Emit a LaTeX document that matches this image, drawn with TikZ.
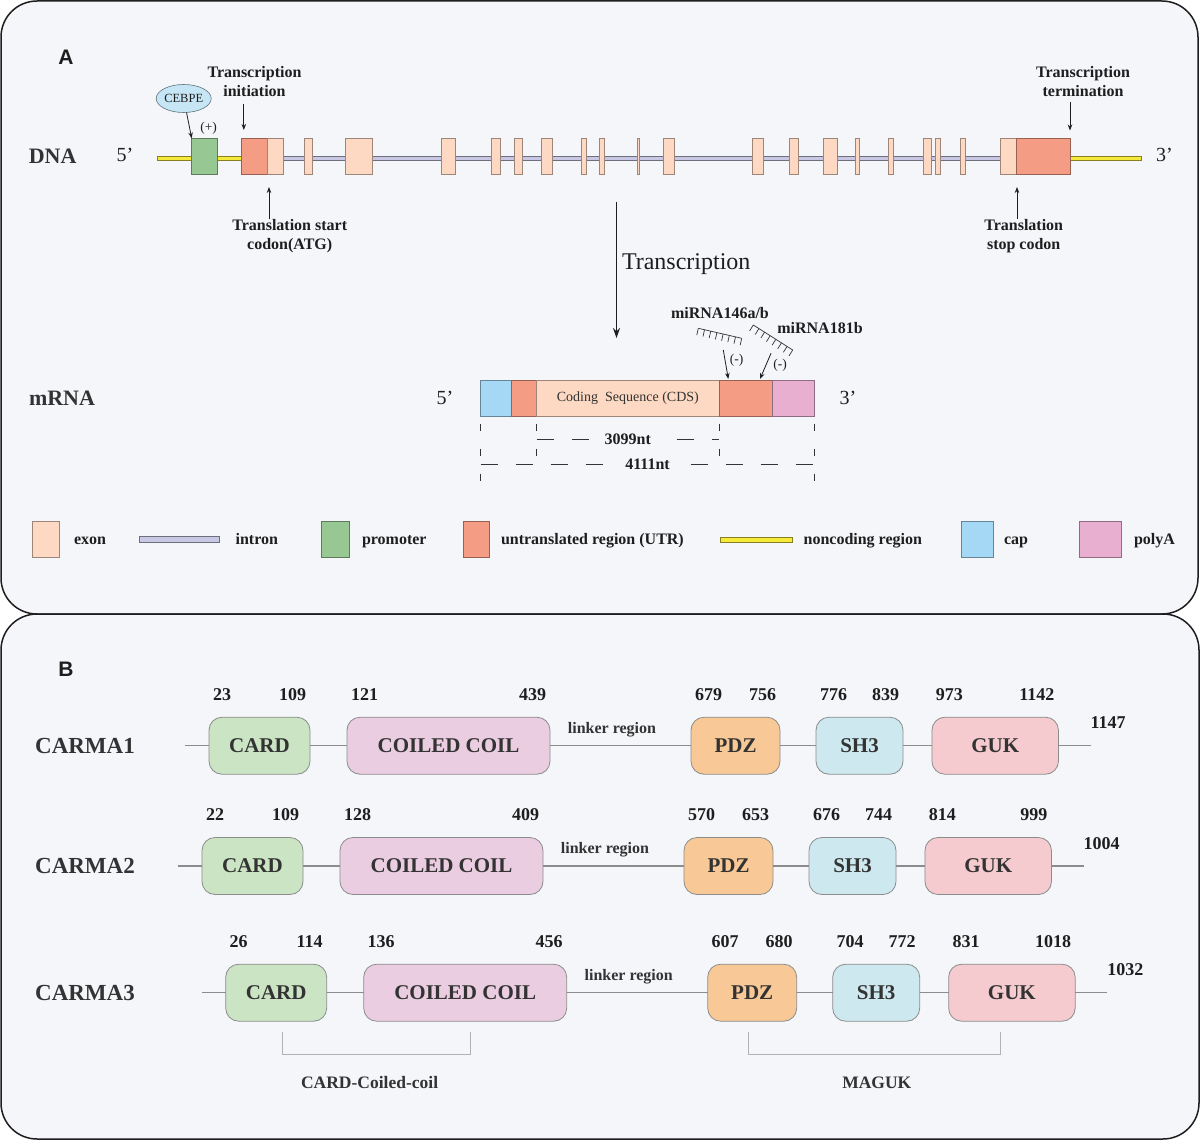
\documentclass[tikz,border=0pt]{standalone}
\usepackage{fontspec}
\setmainfont{Liberation Serif}
\newfontfamily\panelsans{Liberation Sans}
\usetikzlibrary{positioning,shapes.geometric,arrows.meta,calc}

\definecolor{bgcol}{HTML}{F4F6FA}
\definecolor{ink}{HTML}{1E1E1E}
\definecolor{ink2}{HTML}{333333}
\definecolor{exonc}{HTML}{FDD8C2}
\definecolor{utrc}{HTML}{F59C84}
\definecolor{promc}{HTML}{97C893}
\definecolor{intronc}{HTML}{C9C8E4}
\definecolor{noncc}{HTML}{F5E93A}
\definecolor{capc}{HTML}{A4D8F5}
\definecolor{polyc}{HTML}{E9AFD1}
\definecolor{cebpec}{HTML}{C6E6F6}
\definecolor{cardc}{HTML}{CBE4C4}
\definecolor{coilc}{HTML}{EBCDE1}
\definecolor{pdzc}{HTML}{F8C996}
\definecolor{shc}{HTML}{CDE9EF}
\definecolor{gukc}{HTML}{F5CBD0}

\begin{document}
\begin{tikzpicture}[x=1pt, y=-1pt,
every node/.style={inner sep=0pt, outer sep=0pt, text=ink},
panel/.style={draw=ink, line width=1.5pt, fill=bgcol, rounded corners=36pt},
box/.style={draw=#1!62!black, fill=#1, line width=.7pt, minimum height=35.7pt},
bar/.style={draw=#1!55!black, fill=#1, line width=.5pt},
dom/.style={draw=black!45, fill=#1, line width=.8pt, rounded corners=13pt,
    minimum height=57pt, text=ink2, font=\fontsize{21}{21}\selectfont\bfseries},
lab/.style={font=\fontsize{16}{19.5}\selectfont\bfseries, align=center},
bigtxt/.style={font=\fontsize{22}{22}\selectfont\bfseries, text=ink2},
prime/.style={font=\fontsize{20}{20}\selectfont},
smalltxt/.style={font=\fontsize{13.5}{13.5}\selectfont},
leg/.style={font=\fontsize{16}{16}\selectfont\bfseries, anchor=base west},
num/.style={font=\fontsize{18}{18}\selectfont\bfseries},
linker/.style={font=\fontsize{16}{16}\selectfont\bfseries, text=ink2},
arr/.style={draw=ink, line width=.8pt, -{Stealth[length=6pt,width=4.5pt]}},
dimv/.style={draw=ink2, line width=.8pt, dash pattern=on 7pt off 18pt},
dimh/.style={draw=ink2, line width=.8pt, dash pattern=on 17pt off 18pt},
comb/.style={draw=ink2, line width=.7pt},
bb/.style={draw=black!45, line width=1.2pt},
brk/.style={draw=black!30, line width=1pt}
]
\useasboundingbox (0,0) rectangle (1200,1140);
\draw[panel] (1,1) rectangle (1198,614);
\draw[panel] (1,614) rectangle (1199,1139);
\node[font=\panelsans\fontsize{21}{21}\selectfont\bfseries] (pa) at (66,57) {A};
\node[font=\panelsans\fontsize{21}{21}\selectfont\bfseries] (pb) at (66,669) {B};

% DNA
\node[bigtxt] (dna) at (52.6,156.7) {DNA};
\node[prime] (d5) at (125,155) {5’};
\node[prime] (d3) at (1164.5,155) {3’};
\node[bar=noncc, minimum width=84.2pt, minimum height=3.6pt, anchor=west] (nc5) at (157.5,158.5) {};
\node[bar=noncc, minimum width=70.3pt, minimum height=3.6pt, anchor=west] (nc3) at (1070.7,158.5) {};
\node[bar=intronc, minimum width=717pt, minimum height=4.6pt, anchor=west] (intr) at (283.7,158.3) {};
\node[box=promc, minimum width=26pt, anchor=west] (prom) at (191.7,156.2) {};
\node[box=utrc, minimum width=25.6pt, anchor=west] (u5) at (241.7,156.2) {};
\node[box=exonc, minimum width=16.4pt, right=0pt of u5] (ex0) {};
\foreach \x/\w [count=\k] in {304.3/8, 345.7/26.6, 441.7/14, 491.7/8.3, 514.3/8, 541/11.7,%
    581/5, 599.3/5, 637/2.3, 663.3/11.4, 752.3/11, 789.3/8.7, 823.3/14, 855.3/4,%
    888.3/5, 923.3/8.4, 935.7/5, 960/5}
  \node[box=exonc, minimum width=\w pt, anchor=west] (ex\k) at (\x,156.2) {};
\node[box=exonc, minimum width=16pt, anchor=west] (exl) at (1000.7,156.2) {};
\node[box=utrc, minimum width=54pt, right=0pt of exl] (u3) {};

\node[ellipse, draw=cebpec!50!black, fill=cebpec, line width=.6pt, minimum width=52pt,
    minimum height=28pt, font=\fontsize{12.5}{12.5}\selectfont] (cebpe) at (183.7,98.5) {CEBPE};
\node[smalltxt] (plus) at (208.6,128.3) {(+)};
\draw[arr] (cebpe) -- (prom.north west);

\node[lab] (tini) at (254.5,81.5) {Transcription\\initiation};
\coordinate (tss) at (243.8,130);
\draw[arr, shorten <=7pt] (tini.south -| tss) -- (tss);
\node[lab] (tstart) at (289.7,236.3) {Translation start\\codon(ATG)};
\coordinate (atg) at (269,187);
\draw[arr] (tstart.north -| atg) -- (atg);
\node[lab] (tterm) at (1083,81.5) {Transcription\\termination};
\coordinate (tts) at (1070,130.5);
\draw[arr, shorten <=5pt] (tterm.south -| tts) -- (tts);
\node[lab] (tstop) at (1023.7,236) {Translation\\stop codon};
\coordinate (stp) at (1017,187);
\draw[arr] (tstop.north -| stp) -- (stp);

% transcription
\coordinate (tx1) at (616.5,201.7);
\coordinate (tx2) at (616.5,338);
\draw[draw=ink, line width=1.3pt, -{Stealth[length=10pt,width=7pt]}] (tx1) -- (tx2);
\node[font=\fontsize{24}{24}\selectfont, anchor=west] (txt) at (622,264) {Transcription};

% mRNA
\node[bigtxt] (mrna) at (62,398) {mRNA};
\node[prime] (m5) at (445,398) {5’};
\node[prime] (m3) at (848,398) {3’};
\node[box=capc, minimum width=30.3pt, minimum height=36.7pt, anchor=west] (mcap) at (480.7,398.3) {};
\node[box=utrc, minimum width=25.7pt, minimum height=36.7pt, right=0pt of mcap] (m5u) {};
\node[box=exonc, minimum width=182.3pt, minimum height=36.7pt, right=0pt of m5u,
    font=\fontsize{14}{14}\selectfont, text=ink2] (cds) {Coding\ \ Sequence (CDS)};
\node[box=utrc, minimum width=53.7pt, minimum height=36.7pt, right=0pt of cds] (m3u) {};
\node[box=polyc, minimum width=41.6pt, minimum height=36.7pt, right=0pt of m3u] (mpa) {};

\node[lab] (mir146) at (720,313) {miRNA146a/b};
\node[lab] (mir181) at (820,327.7) {miRNA181b};
\coordinate (k1a) at (698.3,328.3); \coordinate (k1b) at (741.7,338.3);
\coordinate (k2a) at (753.3,325);   \coordinate (k2b) at (792.7,350);
\draw[comb] (k1a) -- (k1b) (k2a) -- (k2b);
\foreach \tk in {0,...,7}
  \draw[comb] ($(k1a)!\tk/7!(k1b)$) -- ++(-1.5,6.8)
              ($(k2a)!\tk/7!(k2b)$) -- ++(-3.7,5.9);
\coordinate (h1) at (723.3,350); \coordinate (h1t) at (728.3,379);
\coordinate (h2) at (771,353.3); \coordinate (h2t) at (760,379);
\draw[arr] (h1) -- (h1t);
\draw[arr] (h2) -- (h2t);
\node[smalltxt] (neg1) at (736.7,360) {(-)};
\node[smalltxt] (neg2) at (780,365) {(-)};

\foreach \a/\len in {mcap.south west/57, m5u.south east/32, cds.south east/32, mpa.south east/57}
  \draw[dimv] ([yshift=-7pt]\a) -- ++(0,\len);
\coordinate (l1a) at ([yshift=-23pt]m5u.south east);
\coordinate (l1b) at ([yshift=-23pt]cds.south east);
\coordinate (l2a) at ([yshift=-48pt]mcap.south west);
\coordinate (l2b) at ([yshift=-48pt]mpa.south east);
\draw[dimh] (l1a) -- node[lab, fill=bgcol, inner xsep=9pt, inner ysep=2pt] (n3099) {3099nt} (l1b);
\draw[dimh] (l2a) -- node[lab, fill=bgcol, inner xsep=9pt, inner ysep=2pt] (n4111) {4111nt} (l2b);

% legend
\foreach \x/\w/\col [count=\k] in {32/27/exonc, 321.3/27.7/promc, 463/26/utrc, 961/32/capc, 1079/42/polyc}
  \node[box=\col, minimum width=\w pt, minimum height=36pt, anchor=west] (lb\k) at (\x,539) {};
\node[bar=intronc, minimum width=80.6pt, minimum height=6pt, anchor=west] (lbi) at (139,539.3) {};
\node[bar=noncc, minimum width=71.3pt, minimum height=4.4pt, anchor=west] (lbn) at (720.7,539.8) {};
\foreach \x/\txt [count=\k] in {74/exon, 235.6/intron, 362/promoter, 501/untranslated region (UTR),%
    803.6/noncoding region, 1004/cap, 1134/polyA}
  \node[leg] (lt\k) at (\x,544) {\txt};

% CARMA rows
\foreach \row/\dx/\y in {1/0/745.7, 2/-7/866, 3/16.7/992.7} {
  \begin{scope}[xshift=\dx pt]
  \coordinate (c\row-s) at (184.8,\y);
  \coordinate (c\row-e) at (1090.6,\y);
  \node[dom=cardc, minimum width=101pt] (c\row-card) at (259.5,\y) {CARD};
  \node[dom=coilc, minimum width=203pt] (c\row-cc) at (448.5,\y) {COILED COIL};
  \node[dom=pdzc, minimum width=89pt] (c\row-pdz) at (735.5,\y) {PDZ};
  \node[dom=shc, minimum width=87pt] (c\row-sh3) at (859.5,\y) {SH3};
  \node[dom=gukc, minimum width=126.5pt] (c\row-guk) at (995.2,\y) {GUK};
  \node[linker] (c\row-lk) at (612,\y-16) {linker region};
  \end{scope}
  \draw[bb] (c\row-s) -- (c\row-card) -- (c\row-cc) -- (c\row-pdz) -- (c\row-sh3) -- (c\row-guk) -- (c\row-e);
  \node[font=\fontsize{23}{23}\selectfont\bfseries, text=ink2] (carma\row) at (85,\y) {CARMA\row};
}

\foreach \row/\dom/\na/\nb in {1/card/23/109, 1/cc/121/439, 1/pdz/679/756, 1/sh3/776/839, 1/guk/973/1142,%
    2/card/22/109, 2/cc/128/409, 2/pdz/570/653, 2/sh3/676/744, 2/guk/814/999,%
    3/card/26/114, 3/cc/136/456, 3/pdz/607/680, 3/sh3/704/772, 3/guk/831/1018}
{
  \node[num, anchor=base west] (c\row-\dom-a) at ([shift={(4pt,17pt)}]c\row-\dom.north west) {\na};
  \node[num, anchor=base east] (c\row-\dom-b) at ([shift={(-4pt,17pt)}]c\row-\dom.north east) {\nb};
}
\foreach \row/\n in {1/1147, 2/1004, 3/1032}
  \node[num, anchor=base west] (c\row-n) at ([yshift=17pt]c\row-e) {\n};

\draw[brk] ([xshift=6pt,yshift=-11pt]c3-card.south) -- ++(0,22.3) -| ([xshift=5pt,yshift=-11pt]c3-cc.south);
\draw[brk] ([xshift=-4pt,yshift=-11pt]c3-pdz.south) -- ++(0,22.3) -| ([xshift=-11pt,yshift=-11pt]c3-guk.south);
\node[font=\fontsize{17.5}{17.5}\selectfont\bfseries, text=ink2] (g1) at (369.6,1082.7) {CARD-Coiled-coil};
\node[font=\fontsize{17.5}{17.5}\selectfont\bfseries, text=ink2] (g2) at (876.8,1082.7) {MAGUK};
\end{tikzpicture}
\end{document}
